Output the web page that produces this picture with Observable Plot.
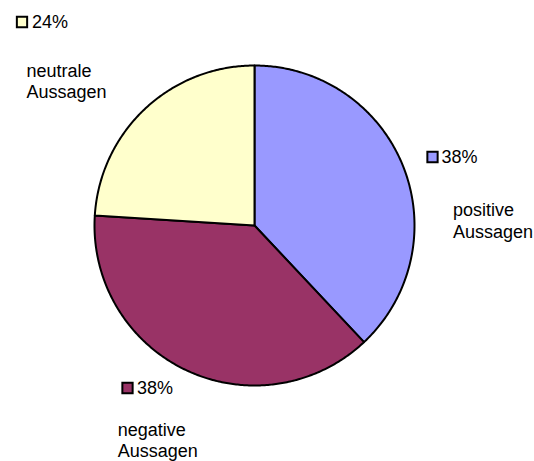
<!DOCTYPE html>
<html>
<head>
<meta charset="utf-8">
<script src="https://cdn.jsdelivr.net/npm/d3@7"></script>
<script src="https://cdn.jsdelivr.net/npm/@observablehq/plot@0.6"></script>
<style>
  html, body { margin: 0; padding: 0; background: #fff; }
  #chart svg { display: block; }
</style>
</head>
<body>
<div id="chart"></div>
<script>
// Data
const categories = ["positive Aussagen", "negative Aussagen", "neutrale Aussagen"];
const values = [38, 38, 24];
const percentLabels = ["38%", "38%", "24%"];
const textLabels = ["positive\nAussagen", "negative\nAussagen", "neutrale\nAussagen"];
const colors = ["#9999FF", "#993366", "#FFFFCC"];

// Layout (pixels): square centre, baseline of percent text, baseline of first text line
const W = 534, H = 461;
const cx = 254, cy = 225, R = 160;
const FS = 18;
const layout = [
  {sq: [432, 156.5], pct: [441, 162], txt: [452.5, 213.5]},
  {sq: [127, 387.5], pct: [136.5, 393.3], txt: [117.3, 433]},
  {sq: [21.5, 21.5], pct: [31.5, 27], txt: [26, 74]}
];

const pie = d3.pie().sort(null).value(d => d)(values);
const slicePts = [];
pie.forEach((p, i) => {
  const n = Math.max(8, Math.ceil((p.endAngle - p.startAngle) / 0.01));
  slicePts.push({name: categories[i], x: cx, y: cy});
  for (let k = 0; k <= n; k++) {
    const a = p.startAngle + (p.endAngle - p.startAngle) * k / n;
    slicePts.push({name: categories[i], x: cx + R * Math.sin(a), y: cy - R * Math.cos(a)});
  }
  slicePts.push({name: categories[i], x: cx, y: cy});
});

const labels = categories.map((c, i) => ({
  name: c, pct: percentLabels[i], txt: textLabels[i],
  sx: layout[i].sq[0], sy: layout[i].sq[1],
  px: layout[i].pct[0], py: layout[i].pct[1],
  tx: layout[i].txt[0], ty: layout[i].txt[1]
}));

const chart = Plot.plot({
  width: W, height: H,
  margin: 0,
  x: {domain: [0, W], range: [0, W], axis: null},
  y: {domain: [0, H], range: [0, H], axis: null},
  color: {domain: categories, range: colors},
  style: {fontFamily: "'Liberation Sans', Arial, Helvetica, sans-serif", background: "#fff"},
  marks: [
    Plot.line(slicePts, {x: "x", y: "y", z: "name", fill: "name", stroke: "black", strokeWidth: 2, strokeLinejoin: "round"}),
    Plot.dot(labels, {x: "sx", y: "sy", symbol: "square", r: 5.8, fill: "name", stroke: "black", strokeWidth: 2}),
    Plot.text(labels, {x: "px", y: "py", text: "pct", textAnchor: "start", lineAnchor: "top", fontSize: FS, fill: "black", dy: -0.71 * FS}),
    Plot.text(labels, {x: "tx", y: "ty", text: "txt", textAnchor: "start", lineAnchor: "top", fontSize: FS, lineHeight: 1.19, fill: "black", dy: -0.71 * FS})
  ]
});
document.getElementById("chart").appendChild(chart);
</script>
</body>
</html>
